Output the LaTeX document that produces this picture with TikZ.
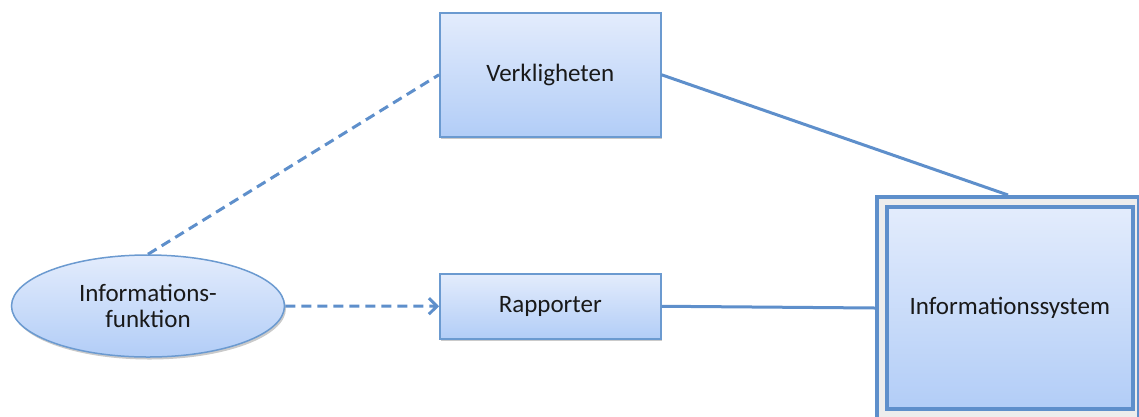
\documentclass[tikz,border=0pt]{standalone}
\usepackage{fontspec}
\setmainfont{Carlito}
\usetikzlibrary{shadows,arrows.meta,shapes.geometric}
\definecolor{edgeblue}{HTML}{6B9AD0}
\definecolor{linkblue}{HTML}{5E8FCB}
\definecolor{filltop}{HTML}{E3ECFC}
\definecolor{fillbot}{HTML}{B2CDF7}
\begin{document}
\begin{tikzpicture}[x=1pt,y=-1pt,
  every node/.style={font=\fontsize{25}{29}\selectfont, text=black!90},
  boxnode/.style={draw=edgeblue, line width=1.5pt, top color=filltop, bottom color=fillbot,
    drop shadow={shadow xshift=1.5pt, shadow yshift=-2.5pt, opacity=0.35, fill=black!60}},
  link/.style={draw=linkblue, line width=3pt},
  dlink/.style={link, dash pattern=on 10pt off 6pt}]
\useasboundingbox (0,0) rectangle (1139,416);

% outer frame of the system box
\node[draw=linkblue, line width=4pt, fill=black!7, minimum width=262pt, minimum height=222pt,
      anchor=north west, inner sep=0pt] (sysout) at (875,195) {};
\node[draw=linkblue, line width=3.5pt, top color=filltop, bottom color=fillbot, minimum width=246pt, minimum height=202pt,
      anchor=north west, inner sep=0pt] (sys) at (885,205) {Informationssystem};

\node[boxnode, minimum width=221pt, minimum height=124pt, anchor=north west, inner sep=0pt] (verk) at (439,12) {Verkligheten};
\node[boxnode, minimum width=221pt, minimum height=65pt, anchor=north west, inner sep=0pt] (rapp) at (439,273) {Rapporter};

\node[boxnode, ellipse, minimum width=273pt, minimum height=102pt, inner sep=0pt, align=center] (func) at (148,306)
  {Informations-\\[-3pt]funktion};

\coordinate (systop) at (1008,195);

\draw[dlink] (func.north) -- (verk.west);
\draw[dlink, -{Straight Barb[length=8pt,width=16pt,line width=3pt]}] (func.east) -- (rapp.west);
\draw[link] (verk.east) -- (systop);
\draw[link] (rapp.east) -- (sysout.west);
\end{tikzpicture}
\end{document}
